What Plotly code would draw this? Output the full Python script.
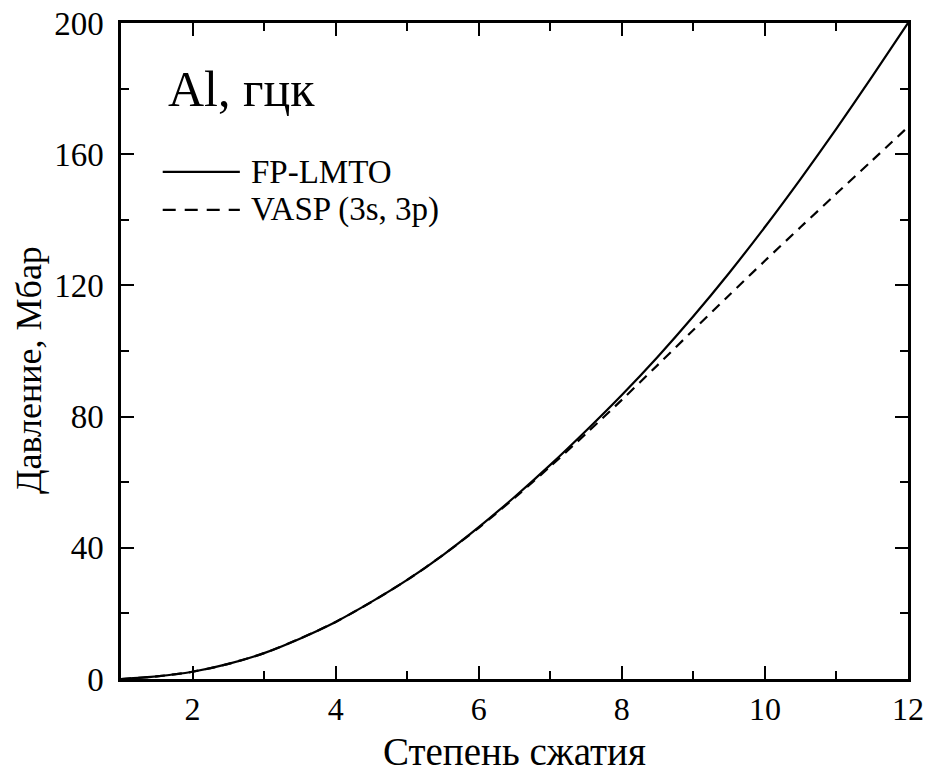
import plotly.graph_objects as go

# Data
x_vals = [1, 1.5, 2, 2.5, 3, 3.5, 4, 4.5, 5, 5.5, 6, 6.5, 7, 7.5, 8, 8.5, 9, 9.5, 10, 10.5, 11, 11.5, 12]
fp_lmto = [0, 0.8, 2.2, 4.6, 7.9, 12.3, 17.4, 23.5, 30.2, 37.8, 46.3, 55.5, 65.3, 75.7, 86.6, 98.2, 110.6, 123.8, 137.8, 152.5, 167.8, 183.7, 200.0]
vasp = [0, 0.8, 2.2, 4.6, 7.9, 12.3, 17.4, 23.5, 30.2, 37.8, 46.1, 55.2, 64.8, 74.8, 85.1, 95.7, 106.4, 117.0, 127.5, 137.8, 148.0, 158.1, 168.3]

series_names = ["FP-LMTO", "VASP (3s, 3p)"]
x_title = "Степень сжатия"
y_title = "Давление, Мбар"
panel_label = "Al, гцк"

FONT = "Liberation Serif"
DASH = "10px,7px"

fig = go.Figure()
fig.add_trace(go.Scatter(x=x_vals, y=fp_lmto, mode="lines", name=series_names[0],
                         line=dict(color="black", width=2.2, shape="spline", smoothing=0.8), showlegend=False))
fig.add_trace(go.Scatter(x=x_vals, y=vasp, mode="lines", name=series_names[1],
                         line=dict(color="black", width=2.2, dash=DASH, shape="spline", smoothing=0.8), showlegend=False))

axis_common = dict(
    showline=True, linecolor="black", linewidth=2.5, mirror="allticks",
    ticks="inside", ticklen=13, tickwidth=2, tickcolor="black",
    showgrid=False, zeroline=False, automargin=False,
)

fig.update_xaxes(range=[1, 12], tick0=0, dtick=2,
                 minor=dict(dtick=1, ticks="inside", ticklen=8, tickwidth=2, tickcolor="black", showgrid=False),
                 ticklabelstandoff=0,
                 tickfont=dict(family=FONT, size=32, color="black"),
                 **axis_common)
fig.update_yaxes(range=[0, 200], tick0=0, dtick=40,
                 minor=dict(dtick=20, ticks="inside", ticklen=8, tickwidth=2, tickcolor="black", showgrid=False),
                 ticklabelstandoff=8,
                 tickfont=dict(family=FONT, size=33, color="black"),
                 **axis_common)

# Axis titles (annotations to match reference positions)
fig.add_annotation(text=x_title, xref="paper", yref="paper", x=0.5, y=-0.11,
                   xanchor="center", yanchor="middle", showarrow=False,
                   font=dict(family=FONT, size=39, color="black"))
fig.add_annotation(text=y_title, xref="paper", yref="paper", x=-0.117, y=0.471,
                   xanchor="center", yanchor="middle", textangle=-90, showarrow=False,
                   font=dict(family=FONT, size=36, color="black"))

# Panel label
fig.add_annotation(text=panel_label, xref="paper", yref="paper", x=0.057, y=0.90,
                   xanchor="left", yanchor="middle", showarrow=False,
                   font=dict(family=FONT, size=50, color="black"))

# Manual legend (line samples + labels)
legend_items = [(series_names[0], "solid", 0.773), (series_names[1], "13px,9px", 0.715)]
for name, dash, yy in legend_items:
    fig.add_shape(type="line", xref="paper", yref="paper", x0=0.053, x1=0.151, y0=yy, y1=yy,
                  line=dict(color="black", width=2.2, dash=dash))
    fig.add_annotation(text=name, xref="paper", yref="paper", x=0.163, y=yy,
                       xanchor="left", yanchor="middle", showarrow=False,
                       font=dict(family=FONT, size=33, color="black"))

fig.update_layout(
    width=927, height=776,
    margin=dict(l=121, r=19, t=23, b=97),
    paper_bgcolor="white", plot_bgcolor="white",
    font=dict(family=FONT, color="black"),
)

fig.write_html("out.html")
